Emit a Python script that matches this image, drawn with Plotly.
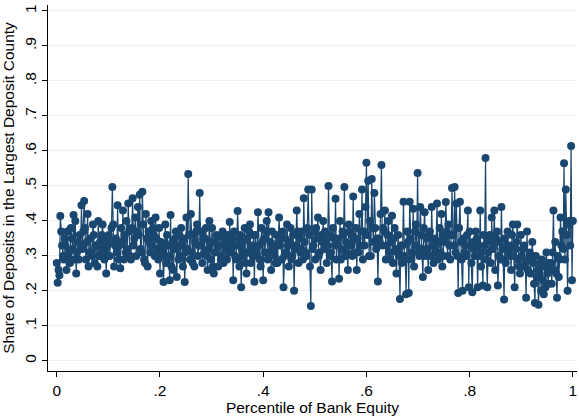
import numpy as np
import plotly.graph_objects as go

# Share of deposits held in each bank's largest deposit county,
# ordered by the bank's equity percentile (0 to 1).
share_largest_county = [
    0.28, 0.223, 0.26, 0.245, 0.414, 0.37, 0.33, 0.30, 0.29, 0.35, 0.33, 0.26, 0.37, 0.30, 0.31, 0.28, 0.38, 0.35, 0.32, 0.417, 0.29, 0.40, 0.25, 0.31, 0.34, 0.29, 0.36, 0.33,
    0.445, 0.32, 0.37, 0.457, 0.38, 0.29, 0.34, 0.42, 0.27, 0.31, 0.35, 0.31, 0.30, 0.39, 0.36, 0.28, 0.33, 0.33, 0.27, 0.40, 0.30, 0.34, 0.30, 0.36, 0.39, 0.32, 0.29, 0.35,
    0.25, 0.33, 0.30, 0.36, 0.30, 0.34, 0.38, 0.497, 0.39, 0.27, 0.33, 0.35, 0.31, 0.445, 0.29, 0.33, 0.265, 0.38, 0.34, 0.43, 0.29, 0.36, 0.31, 0.40, 0.32, 0.45, 0.37, 0.30,
    0.29, 0.38, 0.465, 0.33, 0.35, 0.41, 0.30, 0.37, 0.44, 0.36, 0.475, 0.32, 0.31, 0.483, 0.39, 0.29, 0.28, 0.42, 0.35, 0.27, 0.37, 0.34, 0.31, 0.40, 0.33, 0.38, 0.36, 0.30,
    0.41, 0.35, 0.32, 0.29, 0.38, 0.25, 0.34, 0.33, 0.31, 0.225, 0.30, 0.39, 0.28, 0.36, 0.33, 0.30, 0.23, 0.417, 0.27, 0.34, 0.26, 0.32, 0.35, 0.37, 0.24, 0.33, 0.29, 0.36,
    0.30, 0.38, 0.33, 0.27, 0.35, 0.225, 0.31, 0.41, 0.32, 0.534, 0.36, 0.29, 0.42, 0.31, 0.28, 0.36, 0.27, 0.34, 0.37, 0.39, 0.30, 0.33, 0.48, 0.33, 0.37, 0.28, 0.35, 0.31,
    0.35, 0.38, 0.30, 0.26, 0.32, 0.40, 0.34, 0.29, 0.38, 0.27, 0.25, 0.34, 0.31, 0.36, 0.33, 0.27, 0.33, 0.355, 0.29, 0.30, 0.37, 0.28, 0.35, 0.34, 0.32, 0.29, 0.36, 0.31,
    0.397, 0.31, 0.33, 0.35, 0.23, 0.37, 0.30, 0.29, 0.33, 0.428, 0.35, 0.27, 0.36, 0.21, 0.32, 0.34, 0.30, 0.38, 0.28, 0.25, 0.35, 0.31, 0.37, 0.39, 0.28, 0.33, 0.30, 0.36,
    0.226, 0.36, 0.32, 0.30, 0.425, 0.33, 0.29, 0.27, 0.38, 0.34, 0.23, 0.35, 0.31, 0.37, 0.40, 0.29, 0.425, 0.31, 0.34, 0.26, 0.37, 0.33, 0.32, 0.30, 0.28, 0.36, 0.28, 0.34,
    0.41, 0.33, 0.36, 0.29, 0.37, 0.21, 0.30, 0.35, 0.31, 0.39, 0.33, 0.27, 0.34, 0.38, 0.29, 0.30, 0.36, 0.20, 0.32, 0.33, 0.43, 0.37, 0.28, 0.35, 0.31, 0.32, 0.37, 0.29,
    0.465, 0.34, 0.31, 0.30, 0.38, 0.49, 0.36, 0.27, 0.157, 0.49, 0.32, 0.33, 0.37, 0.29, 0.38, 0.35, 0.41, 0.30, 0.31, 0.26, 0.36, 0.34, 0.40, 0.32, 0.37, 0.34, 0.28, 0.33,
    0.50, 0.36, 0.30, 0.31, 0.227, 0.38, 0.35, 0.33, 0.463, 0.29, 0.34, 0.35, 0.235, 0.40, 0.29, 0.32, 0.37, 0.36, 0.497, 0.30, 0.34, 0.31, 0.26, 0.39, 0.37, 0.33, 0.36, 0.30,
    0.47, 0.31, 0.35, 0.38, 0.26, 0.35, 0.31, 0.42, 0.33, 0.37, 0.49, 0.29, 0.37, 0.33, 0.44, 0.566, 0.36, 0.515, 0.30, 0.40, 0.30, 0.52, 0.38, 0.34, 0.48, 0.38, 0.32, 0.35,
    0.227, 0.35, 0.34, 0.42, 0.56, 0.33, 0.38, 0.37, 0.43, 0.29, 0.33, 0.36, 0.40, 0.31, 0.29, 0.34, 0.415, 0.28, 0.35, 0.38, 0.32, 0.25, 0.31, 0.36, 0.30, 0.177, 0.33, 0.28,
    0.33, 0.455, 0.30, 0.29, 0.19, 0.37, 0.34, 0.194, 0.455, 0.35, 0.29, 0.31, 0.435, 0.27, 0.37, 0.39, 0.33, 0.537, 0.31, 0.30, 0.44, 0.36, 0.32, 0.24, 0.38, 0.425, 0.30, 0.35,
    0.32, 0.26, 0.36, 0.37, 0.30, 0.44, 0.33, 0.28, 0.35, 0.31, 0.33, 0.45, 0.29, 0.34, 0.38, 0.31, 0.42, 0.27, 0.30, 0.36, 0.34, 0.454, 0.37, 0.30, 0.39, 0.33, 0.29, 0.36,
    0.494, 0.36, 0.33, 0.497, 0.31, 0.45, 0.30, 0.194, 0.38, 0.455, 0.34, 0.29, 0.20, 0.35, 0.31, 0.33, 0.30, 0.36, 0.43, 0.21, 0.37, 0.33, 0.28, 0.196, 0.34, 0.32, 0.30, 0.37,
    0.35, 0.21, 0.33, 0.30, 0.43, 0.27, 0.31, 0.215, 0.36, 0.33, 0.58, 0.29, 0.21, 0.31, 0.345, 0.36, 0.28, 0.41, 0.32, 0.33, 0.43, 0.26, 0.35, 0.37, 0.215, 0.30, 0.34, 0.29,
    0.44, 0.32, 0.29, 0.175, 0.35, 0.28, 0.33, 0.37, 0.31, 0.30, 0.33, 0.26, 0.36, 0.39, 0.30, 0.21, 0.32, 0.34, 0.39, 0.29, 0.27, 0.25, 0.36, 0.30, 0.32, 0.27, 0.33, 0.28,
    0.18, 0.37, 0.26, 0.29, 0.31, 0.25, 0.30, 0.34, 0.28, 0.22, 0.165, 0.30, 0.24, 0.26, 0.16, 0.24, 0.28, 0.20, 0.29, 0.23, 0.19, 0.27, 0.21, 0.31, 0.25, 0.22, 0.28, 0.26,
    0.28, 0.22, 0.31, 0.43, 0.26, 0.34, 0.25, 0.18, 0.30, 0.24, 0.29, 0.41, 0.33, 0.37, 0.32, 0.565, 0.29, 0.49, 0.36, 0.20, 0.39, 0.40, 0.33, 0.614, 0.23, 0.40,
]

# Equity percentile: banks ranked evenly from 0 to 1
equity_percentile = np.linspace(0.0, 1.0, len(share_largest_county))

x_tick_values = [0, 0.2, 0.4, 0.6, 0.8, 1]
x_tick_labels = ["0", ".2", ".4", ".6", ".8", "1"]
y_tick_values = [0, 0.1, 0.2, 0.3, 0.4, 0.5, 0.6, 0.7, 0.8, 0.9, 1]
y_tick_labels = ["0", ".1", ".2", ".3", ".4", ".5", ".6", ".7", ".8", ".9", "1"]

NAVY = "#1a476f"
FONT = "Liberation Sans, Arial, sans-serif"
TEXT_SIZE = 15.5

fig = go.Figure(
    go.Scatter(
        x=equity_percentile,
        y=share_largest_county,
        mode="lines+markers",
        line=dict(color=NAVY, width=1.2),
        marker=dict(color=NAVY, size=8, line=dict(width=0)),
        showlegend=False,
        hoverinfo="skip",
    )
)

fig.update_layout(
    width=579,
    height=418,
    margin=dict(l=48, r=2, t=5, b=47),
    paper_bgcolor="white",
    plot_bgcolor="white",
    font=dict(family=FONT, size=TEXT_SIZE, color="black"),
)

fig.update_xaxes(
    range=[-0.017, 1.008],
    tickvals=x_tick_values,
    ticktext=x_tick_labels,
    ticks="outside",
    ticklen=5,
    tickwidth=1,
    tickcolor="black",
    showline=True,
    linecolor="black",
    linewidth=1,
    showgrid=False,
    zeroline=False,
    tickfont=dict(size=TEXT_SIZE),
    title=dict(text="Percentile of Bank Equity", font=dict(size=TEXT_SIZE), standoff=0),
)

fig.update_yaxes(
    range=[-0.029, 1.017],
    tickvals=y_tick_values,
    ticktext=y_tick_labels,
    tickangle=-90,
    ticks="outside",
    ticklen=5,
    tickwidth=1,
    tickcolor="black",
    showline=True,
    linecolor="black",
    linewidth=1,
    showgrid=True,
    gridcolor="#e9f0f2",
    gridwidth=1,
    zeroline=False,
    tickfont=dict(size=TEXT_SIZE),
    title=dict(text="Share of Deposits in the Largest Deposit County", font=dict(size=TEXT_SIZE), standoff=3),
)

fig.write_html("out.html")
